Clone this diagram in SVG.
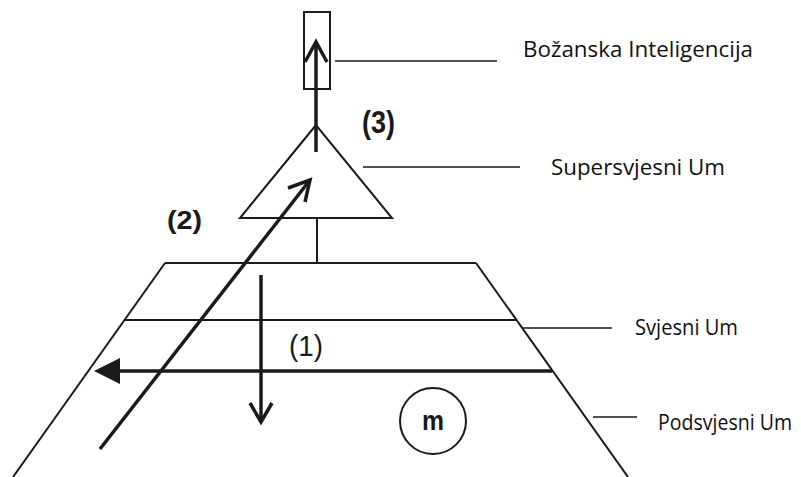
<svg xmlns="http://www.w3.org/2000/svg" width="801" height="477" viewBox="0 0 801 477">
<style>
.ln{stroke:#1a1a1a;stroke-width:2;fill:none;stroke-linecap:butt}
.ld{stroke:#1a1a1a;stroke-width:1.5;fill:none}
.ar{stroke:#1a1a1a;stroke-width:3.5;fill:none;stroke-linecap:butt;stroke-linejoin:miter}
.lbl{font-family:"Open Sans","Noto Sans",sans-serif;font-size:21px;fill:#111}
.num{font-family:"Liberation Sans Narrow","Liberation Sans",Arial,sans-serif;fill:#1a1a1a}
</style>
<rect width="801" height="477" fill="#fff"/>
<g id="bozanska">
<rect x="304" y="12" width="26" height="77" class="ln"/>
</g>
<g id="supersvjesni">
<polygon points="316,125 240,218 392,218" class="ln"/>
</g>
<g id="trapez">
<line x1="165" y1="263" x2="476" y2="263" class="ln"/>
<line x1="165" y1="263" x2="13" y2="477" class="ln"/>
<line x1="476" y1="263" x2="628" y2="477" class="ln"/>
<line x1="125" y1="320" x2="516" y2="320" class="ln"/>
</g>
<g id="m">
<circle cx="433" cy="421" r="33" class="ln"/>
<text x="433" y="430" text-anchor="middle" class="num" font-size="27" font-weight="bold" textLength="22" lengthAdjust="spacingAndGlyphs">m</text>
</g>
<g id="connectors">
<line x1="317" y1="218" x2="317" y2="263" class="ln"/>
<line x1="335" y1="61" x2="497" y2="61" class="ld"/>
<line x1="363" y1="167" x2="520" y2="167" class="ld"/>
<line x1="523" y1="328" x2="612" y2="328" class="ld"/>
<line x1="593" y1="417" x2="637" y2="417" class="ld"/>
<line x1="316" y1="152" x2="316" y2="42" class="ar"/>
<polyline points="305,62 316,42 327,62" class="ar"/>
<line x1="100" y1="449" x2="310" y2="180" class="ar"/>
<polyline points="288,188 310,180 305,202" class="ar"/>
<line x1="261" y1="275" x2="261" y2="422" class="ar"/>
<polyline points="250,403 261,422 272,403" class="ar"/>
<line x1="552" y1="371" x2="118" y2="371" class="ar" stroke-width="3"/>
<polygon points="94,371 120,358 120,384" fill="#1a1a1a"/>
</g>
<g id="labels">
<text x="523" y="57" class="lbl" textLength="230" lengthAdjust="spacingAndGlyphs">Božanska Inteligencija</text>
<text x="551" y="175" class="lbl" textLength="174" lengthAdjust="spacingAndGlyphs">Supersvjesni Um</text>
<text x="635" y="335" class="lbl" textLength="103" lengthAdjust="spacingAndGlyphs">Svjesni Um</text>
<text x="658" y="430" class="lbl" textLength="134" lengthAdjust="spacingAndGlyphs">Podsvjesni Um</text>
<text x="362" y="133" class="num" font-size="31" font-weight="bold" textLength="33" lengthAdjust="spacingAndGlyphs">(3)</text>
<text x="167" y="229" class="num" font-size="25" font-weight="bold" textLength="35" lengthAdjust="spacingAndGlyphs">(2)</text>
<text x="289" y="356" class="num" font-size="29" textLength="34" lengthAdjust="spacingAndGlyphs">(1)</text>
</g>
</svg>
